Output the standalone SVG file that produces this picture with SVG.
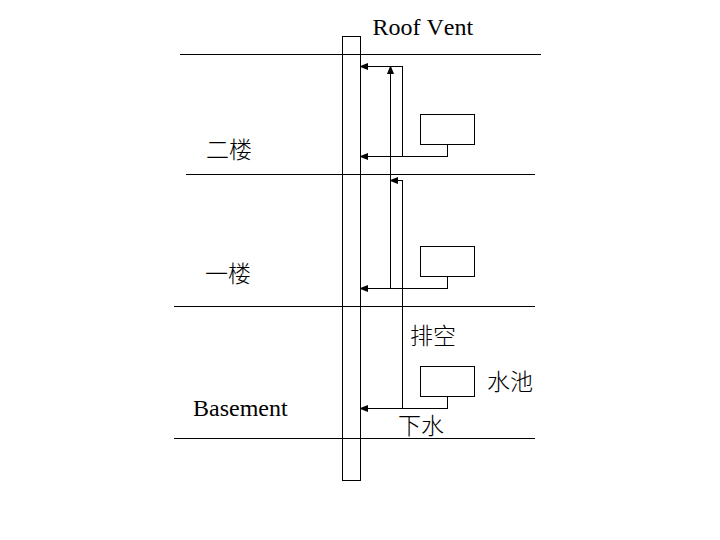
<svg xmlns="http://www.w3.org/2000/svg" width="720" height="540" viewBox="0 0 720 540">
<style>
.l{fill:none;stroke:#000;stroke-width:1;shape-rendering:crispEdges}
.b{fill:#fff;stroke:#000;stroke-width:1;shape-rendering:crispEdges}
.a{fill:none;stroke:#000;stroke-width:1;shape-rendering:crispEdges;marker-end:url(#arrow)}
.t{font-family:"Liberation Serif","Times New Roman",serif;font-size:24px;font-kerning:none;fill:#000}
.c{font-family:"Liberation Serif","Noto Sans CJK SC",sans-serif;font-size:23px;font-weight:300;fill:#000}
</style>
<defs>
<marker id="arrow" markerUnits="userSpaceOnUse" markerWidth="8" markerHeight="8" refX="7" refY="3.5" orient="auto">
<path d="M0 0L7 2.8V4.2L0 7Z" fill="#000"/>
</marker>
</defs>
<rect width="720" height="540" fill="#fff"/>
<g id="floors">
<path class="l" d="M180 54.5H541M186 174.5H535M174 306.5H535M174 438.5H535"/>
</g>
<g id="stack">
<rect class="l" x="342.5" y="36.5" width="18" height="444"/>
</g>
<g id="connectors">
<path class="a" d="M402.5 156.5V66.5H361"/>
<path class="a" d="M447.5 144.5V156.5H361"/>
<path class="a" d="M390.5 288.5V67"/>
<path class="a" d="M402.5 408.5V180.5H391"/>
<path class="a" d="M447.5 276.5V288.5H361"/>
<path class="a" d="M447.5 396.5V408.5H361"/>
</g>
<g id="fixture-2f"><rect class="b" x="420.5" y="114.5" width="54" height="30"/></g>
<g id="fixture-1f"><rect class="b" x="420.5" y="246.5" width="54" height="30"/></g>
<g id="fixture-b"><rect class="b" x="420.5" y="366.5" width="54" height="30"/></g>
<g id="labels">
<text class="t" x="372.5" y="35">Roof Vent</text>
<text class="t" x="193" y="416">Basement</text>
<text class="c" x="206" y="158">二楼</text>
<text class="c" x="205" y="282">一楼</text>
<text class="c" x="410" y="344">排空</text>
<text class="c" x="487" y="390">水池</text>
<text class="c" x="398" y="434">下水</text>
</g>
</svg>
